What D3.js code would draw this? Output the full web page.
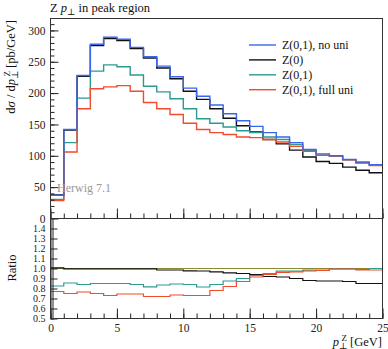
<!DOCTYPE html>
<html>
<head>
<meta charset="utf-8">
<script src="https://cdn.jsdelivr.net/npm/d3@7"></script>
<style>
  body { margin: 0; background: #fff; }
  text { font-family: "Liberation Serif", "DejaVu Serif", serif; }
</style>
</head>
<body>
<div id="chart"></div>
<script>
// bin low edges (last one is the upper edge of the final bin)
const binEdges = [0, 1, 2, 3, 4, 5, 6, 7, 8, 9, 10, 11, 12, 13, 14, 15, 16, 17, 18, 19, 20, 21, 22, 23, 24, 25];

const seriesNames = ['Z(0,1), no uni', 'Z(0)', 'Z(0,1)', 'Z(0,1), full uni'];

// dsigma/dpT [pb/GeV] per bin
const noUni   = [37, 142, 228, 278, 289, 286, 273, 258, 243, 226, 208, 195, 181, 167, 156, 147, 137, 130, 121, 110, 103, 100, 94, 90, 86];
const z0      = [37.5, 141, 227, 276, 287, 284, 271, 256, 240, 223, 203, 190, 175, 160, 148, 138, 126, 119, 109, 98, 91, 88, 82, 77, 73];
const z01     = [30.5, 121, 192, 235, 245, 242, 229, 211, 202, 191, 175, 159, 152, 146, 140, 137, 130, 126, 118, 108, 101, 99.5, 93.5, 89, 86];
const fullUni = [28.5, 106, 175, 207, 210, 212, 203, 185, 175, 166, 152, 142, 137, 134, 130, 129, 126, 122, 115, 107, 101, 99.5, 93.5, 88.5, 84.5];

// ratios to "Z(0,1), no uni"
const ratioZ0      = [1.006, 0.996, 0.996, 0.996, 0.996, 0.996, 0.996, 0.996, 0.985, 0.985, 0.976, 0.975, 0.966, 0.956, 0.95, 0.94, 0.92, 0.915, 0.9, 0.88, 0.875, 0.875, 0.87, 0.85, 0.85];
const ratioZ01     = [0.825, 0.855, 0.84, 0.85, 0.85, 0.85, 0.84, 0.817, 0.835, 0.845, 0.84, 0.815, 0.84, 0.875, 0.9, 0.93, 0.95, 0.973, 0.973, 0.983, 0.983, 0.996, 0.995, 0.99, 1.0];
const ratioFullUni = [0.77, 0.75, 0.765, 0.75, 0.73, 0.745, 0.745, 0.72, 0.72, 0.735, 0.73, 0.73, 0.78, 0.82, 0.87, 0.915, 0.94, 0.96, 0.965, 0.975, 0.98, 0.995, 0.995, 0.985, 0.985];
const ratioRef     = [1, 1, 1, 1, 1, 1, 1, 1, 1, 1, 1, 1, 1, 1, 1, 1, 1, 1, 1, 1, 1, 1, 1, 1, 1];

const mainTicks  = [0, 50, 100, 150, 200, 250, 300];
const ratioTicks = [0.5, 0.6, 0.7, 0.8, 0.9, 1.0, 1.1, 1.2, 1.3, 1.4];
const xTicks     = [0, 5, 10, 15, 20, 25];

function drawChart() {
  const W = 388, H = 349;
  const L = 50.5, R = 382.5, T = 18.5, M = 218.5, B = 318.5;
  const colors = ['#3a66ee', '#111111', '#2b9a8f', '#f24b2d'];

  const svg = d3.select('#chart').append('svg')
    .attr('width', W)
    .attr('height', H);

  // scales
  const x  = d3.scaleLinear().domain([0, 25]).range([L, R]);
  const y  = d3.scaleLinear().domain([0, 319]).range([M, T]);
  const yr = d3.scaleLinear().domain([0.5, 1.5]).range([B, M]);

  // clip paths
  const defs = svg.append('defs');
  defs.append('clipPath').attr('id', 'clipMain')
    .append('rect').attr('x', L).attr('y', T).attr('width', R - L).attr('height', M - T);
  defs.append('clipPath').attr('id', 'clipRatio')
    .append('rect').attr('x', L).attr('y', M).attr('width', R - L).attr('height', B - M);

  const stepPts = vals => vals.map((v, i) => [binEdges[i], v]).concat([[binEdges[vals.length], vals[vals.length - 1]]]);

  // main panel lines
  const lineMain = d3.line().x(d => x(d[0])).y(d => y(d[1])).curve(d3.curveStepAfter);
  const mainSeries = [noUni, z0, z01, fullUni];
  const gMain = svg.append('g').attr('clip-path', 'url(#clipMain)');
  // draw blue last so it sits on top like in the reference
  [1, 2, 3, 0].forEach(i => {
    gMain.append('path')
      .datum(stepPts(mainSeries[i]))
      .attr('fill', 'none')
      .attr('stroke', colors[i])
      .attr('stroke-width', 1.4)
      .attr('d', lineMain);
  });

  // ratio panel lines
  const lineRatio = d3.line().x(d => x(d[0])).y(d => yr(d[1])).curve(d3.curveStepAfter);
  const gRatio = svg.append('g').attr('clip-path', 'url(#clipRatio)');
  const ratioSeries = [[ratioRef, '#8c8a2a'], [ratioZ0, colors[1]], [ratioZ01, colors[2]], [ratioFullUni, colors[3]]];
  ratioSeries.forEach(([vals, c]) => {
    gRatio.append('path')
      .datum(stepPts(vals))
      .attr('fill', 'none')
      .attr('stroke', c)
      .attr('stroke-width', 1.2)
      .attr('d', lineRatio);
  });

  // axes
  const styleAxis = (g, size) => {
    g.select('.domain').remove();
    g.selectAll('line').attr('stroke', '#222');
    g.attr('font-family', '"Liberation Serif", "DejaVu Serif", serif')
     .attr('font-size', size || 11.5);
    g.selectAll('text').attr('fill', '#222');
  };

  svg.append('g').attr('transform', `translate(${L},0)`)
    .call(d3.axisLeft(y).tickValues(d3.range(0, 320, 10)).tickSize(-4).tickFormat(''))
    .call(styleAxis);
  svg.append('g').attr('transform', `translate(${L},0)`)
    .call(d3.axisLeft(y).tickValues(mainTicks).tickSize(-8).tickPadding(5))
    .call(styleAxis);

  svg.append('g').attr('transform', `translate(${L},0)`)
    .call(d3.axisLeft(yr).tickValues(d3.range(0.5, 1.5, 0.02)).tickSize(-3.5).tickFormat(''))
    .call(styleAxis);
  svg.append('g').attr('transform', `translate(${L},0)`)
    .call(d3.axisLeft(yr).tickValues(ratioTicks).tickSize(-7).tickPadding(5).tickFormat(d3.format('.1f')))
    .call(g => styleAxis(g, 10));

  [M, B].forEach(yy => {
    svg.append('g').attr('transform', `translate(0,${yy})`)
      .call(d3.axisBottom(x).tickValues(binEdges).tickSize(-5).tickFormat(''))
      .call(styleAxis);
    svg.append('g').attr('transform', `translate(0,${yy})`)
      .call(d3.axisBottom(x).tickValues(xTicks).tickSize(-10).tickPadding(5)
        .tickFormat(yy === B ? d3.format('d') : ''))
      .call(styleAxis);
  });

  // frames
  [[T, M], [M, B]].forEach(([a, b]) => {
    svg.append('rect')
      .attr('x', L).attr('y', a)
      .attr('width', R - L).attr('height', b - a)
      .attr('fill', 'none')
      .attr('stroke', '#333')
      .attr('stroke-width', 1);
  });

  // title
  const title = svg.append('text')
    .attr('x', 50).attr('y', 12)
    .attr('font-size', 12.5).attr('fill', '#111');
  title.append('tspan').text('Z ');
  title.append('tspan').attr('font-style', 'italic').text('p');
  title.append('tspan').attr('font-size', 9).attr('dy', 2.5).text('⊥');
  title.append('tspan').attr('dy', -2.5).text(' in peak region');

  // y label
  const yl = svg.append('text')
    .attr('transform', 'translate(15,20) rotate(-90)')
    .attr('text-anchor', 'end')
    .attr('font-size', 12.5).attr('fill', '#111');
  yl.append('tspan').text('d');
  yl.append('tspan').attr('font-style', 'italic').text('σ');
  yl.append('tspan').text(' / d');
  yl.append('tspan').attr('font-style', 'italic').text('p');
  yl.append('tspan').attr('font-size', 9).attr('dy', 2.5).text('⊥');
  yl.append('tspan').attr('font-size', 9).attr('dx', -6).attr('dy', -8).text('Z');
  yl.append('tspan').attr('dy', 5.5).text(' [pb/GeV]');

  // ratio label
  svg.append('text')
    .attr('transform', 'translate(16,268) rotate(-90)')
    .attr('text-anchor', 'middle')
    .attr('font-size', 12.5).attr('fill', '#111')
    .text('Ratio');

  // x label
  const xl = svg.append('text')
    .attr('x', 382).attr('y', 346)
    .attr('text-anchor', 'end')
    .attr('font-size', 12.5).attr('fill', '#111');
  xl.append('tspan').attr('font-style', 'italic').text('p');
  xl.append('tspan').attr('font-size', 9).attr('dy', 2.5).text('⊥');
  xl.append('tspan').attr('font-size', 9).attr('dx', -6).attr('dy', -8).text('Z');
  xl.append('tspan').attr('dy', 5.5).text(' [GeV]');

  // generator tag
  svg.append('text')
    .attr('x', 57).attr('y', 192)
    .attr('font-size', 12).attr('fill', '#999')
    .text('Herwig 7.1');

  // legend
  const legend = svg.append('g');
  seriesNames.forEach((name, i) => {
    const ly = 45 + i * 14.9;
    legend.append('line')
      .attr('x1', 249).attr('x2', 276)
      .attr('y1', ly).attr('y2', ly)
      .attr('stroke', colors[i]).attr('stroke-width', 1.4);
    legend.append('text')
      .attr('x', 282).attr('y', ly + 4)
      .attr('font-size', 12).attr('fill', '#111')
      .text(name);
  });
}

drawChart();
</script>
</body>
</html>
